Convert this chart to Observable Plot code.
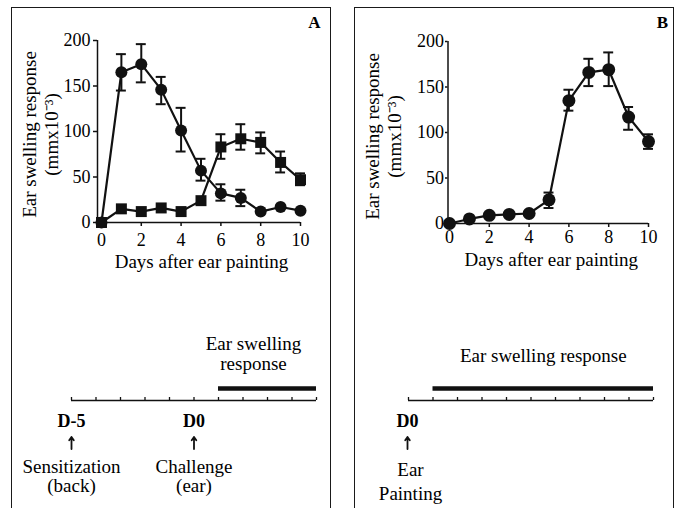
<!DOCTYPE html>
<html><head><meta charset="utf-8">
<script src="https://cdn.jsdelivr.net/npm/d3@7"></script>
<script src="https://cdn.jsdelivr.net/npm/@observablehq/plot@0.6"></script>
<style>
html,body{margin:0;padding:0;background:#fff;}
#root{position:relative;width:677px;height:508px;overflow:hidden;background:#fff;font-family:"Liberation Serif",serif;color:#000;}
.panel{position:absolute;top:7px;height:560px;border:1.5px solid #1a1a1a;border-bottom:none;box-sizing:border-box;}
.abs{position:absolute;}
</style></head><body><div id="root"></div>
<script>
// ---- data ----
const days = [0,1,2,3,4,5,6,7,8,9,10];
const xTicks = [0,2,4,6,8,10];
const yTicks = [0,50,100,150,200];
// Panel A, circles
const aCircle   = [0,165,174,146,101,57,32,27,12,17,13];
const aCircleLo = [null,145,154,130,78,46,24,18,null,null,null];
const aCircleHi = [null,185,196,160,126,70,42,36,null,null,null];
// Panel A, squares
const aSquare   = [0,15,12,16,12,24,83,92,88,66,47];
const aSquareLo = [null,null,null,null,null,null,70,80,76,55,41];
const aSquareHi = [null,null,null,null,null,null,97,108,99,78,54];
// Panel B, circles
const bCircle   = [0,5,9,10,11,26,135,166,169,117,90];
const bCircleLo = [null,null,null,null,null,17,124,151,151,103,82];
const bCircleHi = [null,null,null,null,null,34,147,181,188,128,98];
// texts
const yLabel1 = "Ear swelling response";
const yLabel2 = "(mmx10\u207B\u00B3)";
const xLabel = "Days after ear painting";
// timelines
const timelineDaysA = [-5,-4,-3,-2,-1,0,1,2,3,4,5];
const eventDaysA = [-5, 0];
const eventCodesA = ["D-5", "D0"];
const eventLabelsA = ["Sensitization\n(back)", "Challenge\n(ear)"];
const responseA = [1, 5];
const responseLabelA = "Ear swelling\nresponse";
const timelineDaysB = [0,1,2,3,4,5,6,7,8,9,10];
const eventDaysB = [0];
const eventCodesB = ["D0"];
const eventLabelsB = ["Ear\nPainting"];
const responseB = [1, 10];
const responseLabelB = "Ear swelling response";

// ---- helpers ----
const ink = "#111";
const rows = (v, lo, hi) => days.map((d, i) => ({day: d, v: v[i], lo: lo[i], hi: hi[i]}));
const withErr = data => data.filter(d => d.lo != null);
const cap = 0.25;
const baseStyle = {fontFamily: "Liberation Serif, serif", fontSize: "17.5px", background: "transparent", overflow: "visible", color: "#000"};

function seriesMarks(data, symbol, r) {
  const e = withErr(data);
  return [
    Plot.ruleX(e, {x: "day", y1: "lo", y2: "hi", stroke: ink, strokeWidth: 2}),
    Plot.ruleY(e, {y: "lo", x1: d => d.day - cap, x2: d => d.day + cap, stroke: ink, strokeWidth: 2}),
    Plot.ruleY(e, {y: "hi", x1: d => d.day - cap, x2: d => d.day + cap, stroke: ink, strokeWidth: 2}),
    Plot.line(data, {x: "day", y: "v", stroke: ink, strokeWidth: 2.2}),
    Plot.dot(data, {x: "day", y: "v", symbol, r, fill: ink, stroke: "none"})
  ];
}

function chart(o) {
  return Plot.plot({
    width: o.width, height: o.height,
    marginLeft: o.ml, marginRight: o.mr, marginTop: o.mt, marginBottom: o.mb,
    style: baseStyle,
    x: {domain: o.xDomain, axis: null, label: null},
    y: {domain: [0, 200], axis: null, label: null},
    marks: [
      Plot.ruleY([0], {stroke: ink, strokeWidth: 1.5}),
      Plot.ruleX([o.xDomain[0]], {stroke: ink, strokeWidth: 1.5}),
      Plot.axisY({ticks: yTicks, tickSize: o.tySize, tickPadding: o.tyPad, label: null, fontSize: 18, stroke: ink, strokeWidth: 1.5}),
      Plot.axisX({ticks: xTicks, tickSize: 4, tickPadding: o.txPad, label: null, fontSize: 18, stroke: ink, strokeWidth: 1.5}),
      ...o.series.flatMap(s => seriesMarks(s.data, s.symbol, s.r)),
      Plot.text([yLabel1], {text: d => d, frameAnchor: "left", rotate: -90, textAnchor: "middle", lineAnchor: "middle", dx: o.y1dx, dy: o.ydy, fontSize: 19}),
      Plot.text([yLabel2], {text: d => d, frameAnchor: "left", rotate: -90, textAnchor: "middle", lineAnchor: "middle", dx: o.y2dx, dy: o.ydy, fontSize: 19}),
      Plot.text([xLabel], {text: d => d, frameAnchor: "bottom", textAnchor: "middle", lineAnchor: "middle", dx: o.xldx, dy: o.xldy, fontSize: 19}),
      Plot.text([o.letter], {text: d => d, frameAnchor: "top-right", textAnchor: "middle", lineAnchor: "middle", dx: o.ldx, dy: o.ldy, fontSize: 17, fontWeight: "bold"})
    ]
  });
}

function timeline(o) {
  const events = o.eventDays.map((d, i) => ({day: d, code: o.codes[i], label: o.labels[i]}));
  return Plot.plot({
    width: o.width, height: 218,
    marginLeft: o.ml, marginRight: o.mr, marginTop: 98, marginBottom: 108,
    style: baseStyle,
    x: {domain: o.xDomain, axis: null},
    y: {domain: [0, 1], axis: null},
    marks: [
      Plot.ruleY([0], {stroke: ink, strokeWidth: 1.3}),
      Plot.ruleX(o.ticks, {x: d => d, y1: () => 0, y2: () => 0.25, stroke: ink, strokeWidth: 1.3}),
      Plot.ruleY([o.response], {y: () => 1, x1: d => d[0], x2: d => d[1], stroke: ink, strokeWidth: 4.5}),
      Plot.text([o.responseLabel], {text: d => d, x: () => (o.response[0] + o.response[1]) / 2, y: () => 0, dx: o.rdx, dy: o.rdy, lineAnchor: "top", lineHeight: 1.05, fontSize: 19}),
      Plot.text(events, {x: "day", y: () => 0, text: "code", dx: o.edx, dy: 21, lineAnchor: "middle", fontSize: 18, fontWeight: "bold"}),
      Plot.arrow(events, {x1: "day", x2: "day", y1: () => -1, y2: () => 0, dx: o.edx, dy: 36.5, stroke: ink, strokeWidth: 1.8, headLength: 5, headAngle: 70}),
      Plot.text(events, {x: "day", y: () => 0, text: "label", dx: o.ldx, dy: 58.5, lineAnchor: "top", lineHeight: o.lh, fontSize: 19})
    ]
  });
}

// ---- build ----
const root = document.getElementById("root");
function place(el, left, top) { el.classList.add("abs"); el.style.left = left + "px"; el.style.top = top + "px"; root.appendChild(el); }
function panel(left, width) { const d = document.createElement("div"); d.className = "panel"; d.style.left = left + "px"; d.style.width = width + "px"; root.appendChild(d); }

panel(11, 320);
panel(354, 319.5);

place(chart({
  width: 340, height: 290, ml: 97, mr: 40, mt: 40, mb: 68, xDomain: [-0.2, 10],
  tySize: 4, tyPad: 3, txPad: 7,
  series: [{data: rows(aCircle, aCircleLo, aCircleHi), symbol: "circle", r: 6}, {data: rows(aSquare, aSquareLo, aSquareHi), symbol: "square", r: 6.2}],
  y1dx: -68, y2dx: -46, ydy: 3, xldx: 2.5, xldy: 39, letter: "A", ldx: 14, ldy: -18.4
}), 0, 0);

place(chart({
  width: 337, height: 290, ml: 107.5, mr: 29, mt: 41, mb: 67, xDomain: [-0.075, 10],
  tySize: 2.5, tyPad: 1.5, txPad: 3,
  series: [{data: rows(bCircle, bCircleLo, bCircleHi), symbol: "circle", r: 6.5}],
  y1dx: -75.5, y2dx: -53.5, ydy: 4, xldx: 3, xldy: 36, letter: "B", ldx: 14, ldy: -19.4
}), 340, 0);

place(timeline({
  width: 340, ml: 71, mr: 24, xDomain: [-5, 5], ticks: timelineDaysA,
  eventDays: eventDaysA, codes: eventCodesA, labels: eventLabelsA, response: responseA, responseLabel: responseLabelA,
  rdx: -14, rdy: -65, edx: 0, ldx: 0, lh: 1.03
}), 0, 290);

place(timeline({
  width: 337, ml: 68, mr: 24, xDomain: [0, 10], ticks: timelineDaysB,
  eventDays: eventDaysB, codes: eventCodesB, labels: eventLabelsB, response: responseB, responseLabel: responseLabelB,
  rdx: 0, rdy: -53, edx: -1, ldx: 2, lh: 1.26
}), 340, 290);
</script></body></html>
